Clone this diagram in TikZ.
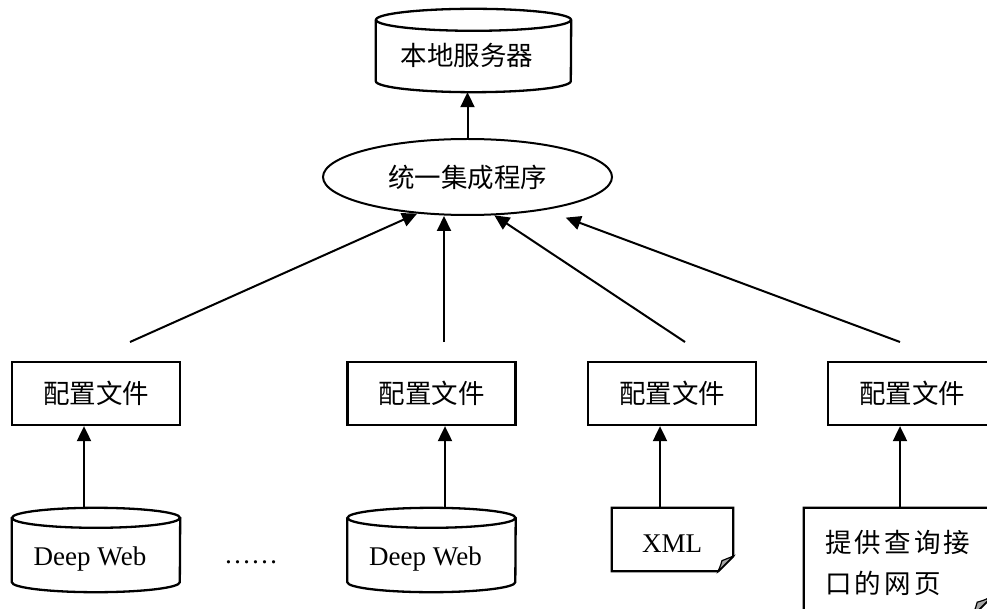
\documentclass[tikz,border=0pt]{standalone}
\usepackage{fontspec}
\setmainfont{Liberation Serif}
\newfontfamily\cjk{Noto Sans CJK SC}
\newfontfamily\cjkwide[LetterSpace=12]{Noto Sans CJK SC}
\usetikzlibrary{arrows.meta,shapes.geometric}
\newcommand\drawcyl[3]{%
  \draw[boxline] ([yshift=-#3]#1.north west) -- ([yshift=#3]#1.south west)
     arc[start angle=180,end angle=360,x radius=#2,y radius=#3] -- ([yshift=-#3]#1.north east);
  \draw[boxline] ([yshift=-#3]#1.north) ellipse[x radius=#2,y radius=#3];
}
\newcommand\drawdoc[2]{%
  \draw[boxline] (#1.north west) -- (#1.north east) -- ([yshift=#2]#1.south east)
     -- ([xshift=-#2]#1.south east) -- (#1.south west) -- cycle;
  \draw[fold] ([xshift=-#2]#1.south east) .. controls ([xshift=-0.8*#2,yshift=0.5*#2]#1.south east) .. ([xshift=-0.75*#2,yshift=0.7*#2]#1.south east)
     .. controls ([xshift=-0.4*#2,yshift=0.8*#2]#1.south east) .. ([yshift=#2]#1.south east) -- cycle;
}
\begin{document}
\begin{tikzpicture}[x=1pt,y=-1pt,
  boxline/.style={draw=black,line width=2.3pt},
  fold/.style={fill=black!35,draw=black,line width=1.2pt},
  cfgbox/.style={boxline,rectangle,minimum width=168pt,minimum height=63pt,inner sep=0pt,font=\cjk\fontsize{26.5pt}{30pt}\selectfont},
  slot/.style={rectangle,draw=none,inner sep=0pt},
  cjktext/.style={inner sep=0pt,font=\cjk\fontsize{26.5pt}{30pt}\selectfont},
  widetext/.style={inner sep=0pt,font=\cjkwide\fontsize{26.5pt}{30pt}\selectfont},
  lattext/.style={inner sep=0pt,font=\fontsize{27pt}{30pt}\selectfont},
  arr/.style={line width=2pt,-{Triangle[length=15pt,width=14pt]}}
]
\useasboundingbox (0,0) rectangle (987,609);
\clip (0,0) rectangle (987,609);

% server
\node[slot,minimum width=195pt,minimum height=83pt] (srv) at (473.5,50.5) {};
\drawcyl{srv}{97.5pt}{11pt}
\node[cjktext] (srvt) at (467,55) {本地服务器};

% integration program
\node[ellipse,draw=black,line width=2pt,minimum width=289pt,minimum height=76pt,inner sep=0pt,font=\cjk\fontsize{26.5pt}{30pt}\selectfont] (ell) at (467.5,177) {统一集成程序};

% config boxes
\node[cfgbox] (b1) at (96,393.5) {配置文件};
\node[cfgbox] (b2) at (431.5,393.5) {配置文件};
\node[cfgbox] (b3) at (672,393.5) {配置文件};
\node[cfgbox] (b4) at (912,393.5) {配置文件};

% sources
\node[slot,minimum width=168pt,minimum height=84pt] (c1) at (96,550) {};
\drawcyl{c1}{84pt}{10pt}
\node[lattext] (c1t) at (90,559) {Deep Web};

\node[lattext,anchor=base] (dots) at (251,563) {……};

\node[slot,minimum width=168pt,minimum height=84pt] (c2) at (431.5,550) {};
\drawcyl{c2}{84pt}{10pt}
\node[lattext] (c2t) at (425.5,559) {Deep Web};

\node[slot,minimum width=121pt,minimum height=63pt] (xml) at (672.5,539.5) {};
\drawdoc{xml}{15pt}
\node[lattext] (xmlt) at (672,544) {XML};

\node[slot,minimum width=188pt,minimum height=108pt] (wd) at (898,562) {};
\drawdoc{wd}{20pt}
\node[widetext,anchor=west] (wd1) at (825,542) {提供查询接};
\node[widetext,anchor=west] (wd2) at (825,583) {口的网页};

% connectors
\coordinate (s1) at (130,342);
\coordinate (s2) at (444,342);
\coordinate (s3) at (685,342);
\coordinate (s4) at (900,342);
\draw[arr] (ell.north) -- (ell.north |- srv.south);
\draw[arr] (s1) -- (ell.216);
\draw[arr] (s2) -- (s2 |- ell.south);
\draw[arr] (s3) -- (ell.305);
\draw[arr,shorten >=22pt] (s4) -- (ell.337);

\draw[arr] ([xshift=-12pt]c1.north) -- ([xshift=-12pt]b1.south);
\draw[arr] ([xshift=13.5pt]c2.north) -- ([xshift=13.5pt]b2.south);
\draw[arr] ([xshift=-12.5pt]xml.north) -- ([xshift=-12pt]b3.south);
\draw[arr] ([xshift=2pt]wd.north) -- ([xshift=-12pt]b4.south);
\end{tikzpicture}
\end{document}
